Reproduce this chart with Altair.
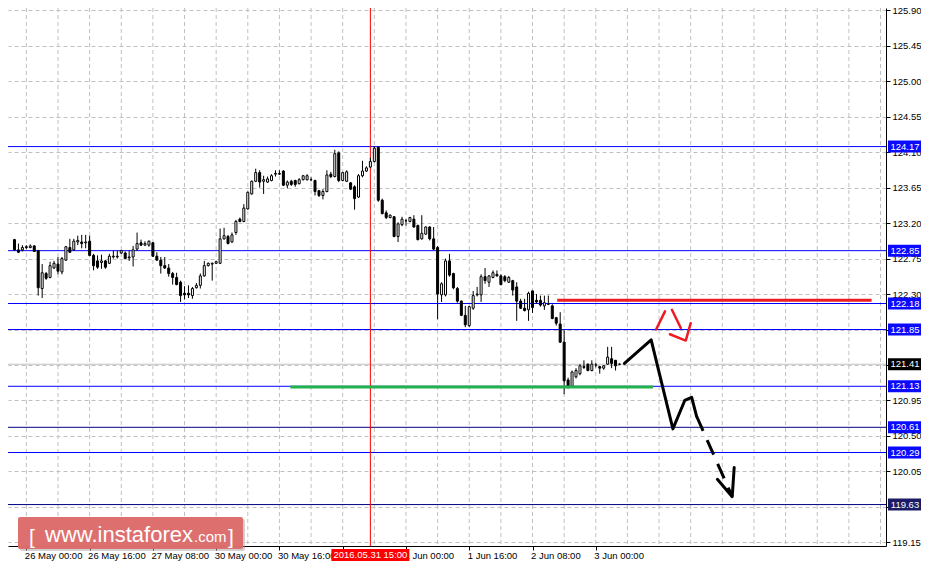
import altair as alt
import pandas as pd

# ---------------- data ----------------
bar_index = list(range(-3, 151))
opens = [122.99, 122.86, 122.86, 122.90, 122.89, 122.91, 122.85, 122.37, 122.56, 122.51,
         122.63, 122.68, 122.58, 122.73, 122.89, 122.86, 122.96, 122.96, 122.95, 122.97,
         122.79, 122.72, 122.70, 122.72, 122.69, 122.77, 122.77, 122.82, 122.82, 122.76,
         122.77, 122.87, 122.95, 122.92, 122.92, 122.95, 122.78, 122.73, 122.66, 122.63,
         122.56, 122.51, 122.45, 122.31, 122.31, 122.28, 122.38, 122.41, 122.53, 122.66,
         122.68, 122.69, 122.69, 123.00, 123.03, 122.96, 123.08, 123.25, 123.22, 123.38,
         123.57, 123.73, 123.84, 123.73, 123.72, 123.74, 123.82, 123.82, 123.86, 123.68,
         123.73, 123.74, 123.70, 123.75, 123.75, 123.75, 123.74, 123.61, 123.55, 123.60,
         123.82, 123.79, 124.09, 123.74, 123.73, 123.71, 123.66, 123.53, 123.80, 123.86,
         123.91, 123.98, 124.16, 123.49, 123.33, 123.27, 123.28, 123.03, 123.18, 123.23,
         123.22, 123.25, 123.17, 123.00, 123.06, 123.15, 123.00, 122.89, 122.29, 122.29,
         122.72, 122.56, 122.37, 122.21, 122.03, 121.90, 122.12, 122.29, 122.29, 122.52,
         122.45, 122.51, 122.55, 122.53, 122.52, 122.45, 122.47, 122.39, 122.21, 122.12,
         122.10, 122.34, 122.22, 122.22, 122.15, 122.17, 122.15, 122.00, 121.92, 121.69,
         121.21, 121.13, 121.25, 121.29, 121.38, 121.41, 121.33, 121.40, 121.38, 121.36,
         121.41, 121.48, 121.46, 121.41]
highs = [123.00, 122.94, 122.92, 122.92, 122.93, 122.92, 122.86, 122.68, 122.58, 122.71,
         122.72, 122.77, 122.77, 122.91, 123.00, 123.00, 123.04, 123.05, 123.05, 123.04,
         122.81, 122.79, 122.80, 122.73, 122.81, 122.85, 122.85, 122.86, 122.84, 122.85,
         122.91, 123.08, 122.99, 122.97, 122.98, 122.96, 122.83, 122.77, 122.77, 122.68,
         122.58, 122.57, 122.47, 122.40, 122.41, 122.39, 122.44, 122.56, 122.72, 122.70,
         122.70, 122.72, 123.13, 123.14, 123.05, 123.08, 123.24, 123.27, 123.44, 123.60,
         123.74, 123.89, 123.87, 123.80, 123.79, 123.82, 123.87, 123.87, 123.87, 123.74,
         123.75, 123.75, 123.77, 123.81, 123.82, 123.78, 123.75, 123.62, 123.63, 123.87,
         123.85, 124.13, 124.11, 123.85, 123.87, 123.72, 123.68, 123.82, 123.99, 123.92,
         124.03, 124.17, 124.17, 123.51, 123.36, 123.31, 123.29, 123.21, 123.28, 123.25,
         123.28, 123.30, 123.18, 123.30, 123.16, 123.16, 123.15, 122.91, 122.45, 122.75,
         122.81, 122.57, 122.39, 122.22, 122.15, 122.15, 122.34, 122.39, 122.55, 122.63,
         122.54, 122.60, 122.60, 122.55, 122.54, 122.53, 122.48, 122.45, 122.24, 122.24,
         122.33, 122.34, 122.30, 122.28, 122.28, 122.28, 122.17, 122.01, 122.07, 121.84,
         121.24, 121.33, 121.36, 121.41, 121.46, 121.42, 121.46, 121.43, 121.39, 121.40,
         121.63, 121.63, 121.46, 121.42]
lows = [122.85, 122.82, 122.84, 122.87, 122.88, 122.84, 122.28, 122.25, 122.48, 122.50,
        122.62, 122.55, 122.55, 122.72, 122.82, 122.85, 122.92, 122.88, 122.88, 122.78,
        122.60, 122.62, 122.62, 122.62, 122.68, 122.75, 122.75, 122.81, 122.74, 122.72,
        122.65, 122.85, 122.91, 122.91, 122.90, 122.77, 122.72, 122.56, 122.62, 122.52,
        122.42, 122.41, 122.20, 122.23, 122.25, 122.24, 122.37, 122.37, 122.52, 122.65,
        122.47, 122.68, 122.68, 122.99, 122.93, 122.95, 123.05, 123.21, 123.21, 123.37,
        123.56, 123.72, 123.65, 123.57, 123.71, 123.73, 123.79, 123.81, 123.67, 123.64,
        123.67, 123.66, 123.69, 123.74, 123.74, 123.73, 123.55, 123.53, 123.50, 123.59,
        123.77, 123.78, 123.72, 123.73, 123.72, 123.62, 123.37, 123.52, 123.78, 123.85,
        123.90, 123.97, 123.47, 123.31, 123.25, 123.26, 123.02, 122.96, 123.16, 123.17,
        123.21, 123.14, 122.98, 122.99, 123.05, 122.98, 122.86, 121.98, 122.20, 122.27,
        122.52, 122.36, 122.19, 122.02, 121.88, 121.88, 122.10, 122.27, 122.20, 122.43,
        122.39, 122.50, 122.52, 122.41, 122.45, 122.44, 122.28, 121.96, 122.11, 122.08,
        121.96, 122.06, 122.18, 122.14, 122.10, 122.16, 121.98, 121.90, 121.68, 121.03,
        121.10, 121.12, 121.23, 121.27, 121.35, 121.32, 121.32, 121.37, 121.29, 121.34,
        121.40, 121.36, 121.33, 121.40]
closes = [122.86, 122.83, 122.89, 122.89, 122.91, 122.84, 122.38, 122.57, 122.50, 122.66,
          122.69, 122.59, 122.75, 122.90, 122.83, 122.97, 122.98, 122.94, 122.96, 122.79,
          122.66, 122.64, 122.72, 122.64, 122.78, 122.78, 122.78, 122.85, 122.75, 122.77,
          122.86, 122.94, 122.92, 122.94, 122.97, 122.78, 122.73, 122.66, 122.63, 122.56,
          122.51, 122.42, 122.28, 122.29, 122.29, 122.37, 122.41, 122.53, 122.66, 122.69,
          122.69, 122.71, 123.00, 123.04, 122.94, 123.05, 123.22, 123.22, 123.39, 123.59,
          123.73, 123.84, 123.72, 123.75, 123.76, 123.80, 123.83, 123.83, 123.68, 123.72,
          123.69, 123.69, 123.75, 123.80, 123.80, 123.75, 123.60, 123.55, 123.60, 123.81,
          123.79, 124.08, 123.74, 123.84, 123.85, 123.63, 123.51, 123.80, 123.86, 123.90,
          123.98, 124.15, 123.49, 123.32, 123.27, 123.30, 123.03, 123.19, 123.25, 123.23,
          123.27, 123.15, 122.99, 123.07, 123.15, 123.00, 122.87, 122.30, 122.43, 122.72,
          122.54, 122.38, 122.21, 122.03, 121.91, 122.14, 122.28, 122.30, 122.52, 122.47,
          122.53, 122.57, 122.53, 122.42, 122.47, 122.51, 122.35, 122.21, 122.12, 122.09,
          122.31, 122.13, 122.20, 122.16, 122.19, 122.17, 121.99, 121.93, 121.69, 121.20,
          121.13, 121.31, 121.33, 121.39, 121.37, 121.33, 121.41, 121.40, 121.36, 121.39,
          121.50, 121.42, 121.39, 121.41]

tick_index = [0, 16, 32, 48, 64, 80, 96, 112, 128, 144]
tick_labels = ["26 May 00:00", "26 May 16:00", "27 May 08:00", "30 May 00:00",
               "30 May 16:00", "31 May 08:00", "1 Jun 00:00", "1 Jun 16:00",
               "2 Jun 08:00", "3 Jun 00:00"]
grid_index = [0, 8, 16, 24, 32, 40, 48, 56, 64, 72, 80, 88, 96, 104, 112, 120, 128,
              136, 144, 152, 160, 168, 176, 184, 192, 200, 208, 216]
y_ticks = [119.15, 119.60, 120.05, 120.50, 120.95, 121.40, 121.85, 122.30, 122.75,
           123.20, 123.65, 124.10, 124.55, 125.00, 125.45, 125.90]

level_values = [124.17, 122.85, 122.18, 121.85, 121.13, 120.61, 120.29, 119.63]
level_line_colors = ["#0000ff", "#0000ff", "#0000ff", "#0000ff", "#0000ff", "#000080", "#0000ff", "#000080"]
level_box_colors = ["#0a0aff", "#0a0aff", "#0a0aff", "#0a0aff", "#0a0aff", "#0a0aff", "#0a0aff", "#1c1c66"]

current_price = 121.41
marker_bar = 87
marker_label = "2016.05.31 15:00"

green_x = [66.75, 158.5]
green_y = 121.12
red_x = [134.25, 213.75]
red_y = 122.22

arrow_x = [151.25, 158.0, 163.5, 166.5, 168.25, 169.5]
arrow_y = [121.42, 121.72, 120.59, 120.95, 120.99, 120.75]
dash_x = [169.5, 178.5]
dash_y = [120.75, 119.73]
head_x = [174.75, 178.5, 179.0]
head_y = [119.95, 119.73, 120.10]

red_seg = [1, 1, 2, 2, 3, 3, 3]
red_ax = [159.25, 161.5, 163.25, 165.5, 162.75, 166.75, 168.0]
red_ay = [121.85, 122.08, 122.10, 121.87, 121.79, 121.71, 121.93]

# ---------------- chart ----------------
FONT = "Liberation Sans"
FS = 9.5

df = pd.DataFrame({"i": bar_index, "o": opens, "h": highs, "l": lows, "c": closes})
df["fill"] = ["white" if c >= o else "black" for o, c in zip(opens, closes)]

xscale = alt.Scale(domain=[-3.375, 216.125], nice=False, zero=False)
yscale = alt.Scale(domain=[119.1046, 125.9276], nice=False, zero=False)

label_expr = " : ".join(f"datum.value == {v} ? '{t}'" for v, t in zip(tick_index, tick_labels)) + " : ''"

xaxis = alt.Axis(values=tick_index, labelExpr=label_expr, grid=False, tickSize=4,
                 labelAlign="left", labelPadding=0, labelOffset=-2, labelFont=FONT,
                 labelFontSize=9.5, labelColor="black", domainColor="black",
                 tickColor="black", title=None, labelOverlap=False, labelFlush=False, zindex=0)
yaxis = alt.Axis(orient="right", values=y_ticks, format=".2f", grid=True, gridDash=[4, 3],
                 gridColor="#c0c0c0", tickSize=4, labelPadding=2, labelFont=FONT,
                 labelFontSize=FS, labelColor="black", domainColor="black", tickColor="black",
                 title=None, labelOverlap=False, labelFlush=False, zindex=0)

X = lambda f: alt.X(f, type="quantitative", scale=xscale, axis=xaxis)
Y = lambda f: alt.Y(f, type="quantitative", scale=yscale, axis=yaxis)

one = pd.DataFrame({"a": [0]})

vgrid = alt.Chart(pd.DataFrame({"i": grid_index})).mark_rule(
    color="#c0c0c0", strokeDash=[4, 3], strokeWidth=1).encode(x=X("i"))

levels_df = pd.DataFrame({"v": level_values, "line": level_line_colors,
                          "box": level_box_colors,
                          "t": [f"{v:.2f}" for v in level_values]})
level_lines = alt.Chart(levels_df).mark_rule(strokeWidth=1).encode(
    y=Y("v"), color=alt.Color("line:N", scale=None))

cur_df = pd.DataFrame({"v": [current_price], "t": [f"{current_price:.2f}"]})
cur_line = alt.Chart(cur_df).mark_rule(color="#c0c0c0", strokeWidth=1).encode(y=Y("v"))

marker_df = pd.DataFrame({"i": [marker_bar], "t": [marker_label]})
vline = alt.Chart(marker_df).mark_rule(color="#ff0000", strokeWidth=1).encode(x=X("i"))

wicks = alt.Chart(df).mark_rule(color="black", strokeWidth=1).encode(
    x=X("i"), y=Y("l"), y2="h")
bodies = alt.Chart(df).mark_bar(width=2, stroke="black", strokeWidth=1).encode(
    x=X("i"), y=Y("o"), y2="c", fill=alt.Fill("fill:N", scale=None))

green = alt.Chart(pd.DataFrame({"x": [green_x[0]], "x2": [green_x[1]], "y": [green_y]})).mark_rule(
    color="#22b14c", strokeWidth=3).encode(x=X("x"), x2="x2", y=Y("y"))
redline = alt.Chart(pd.DataFrame({"x": [red_x[0]], "x2": [red_x[1]], "y": [red_y]})).mark_rule(
    color="#ed1c24", strokeWidth=3).encode(x=X("x"), x2="x2", y=Y("y"))

def path(xs, ys, seg=None):
    d = pd.DataFrame({"x": xs, "y": ys, "k": list(range(len(xs)))})
    d["seg"] = seg if seg is not None else [0] * len(xs)
    return d

arrow = alt.Chart(path(arrow_x, arrow_y)).mark_line(
    color="black", strokeWidth=3, strokeCap="round", strokeJoin="round").encode(
    x=X("x"), y=Y("y"), order="k:Q")
arrow_dash = alt.Chart(path(dash_x, dash_y)).mark_line(
    color="black", strokeWidth=3, strokeDash=[16, 10], strokeCap="butt").encode(
    x=X("x"), y=Y("y"), order="k:Q")
arrow_head = alt.Chart(path(head_x, head_y)).mark_line(
    color="black", strokeWidth=3, strokeCap="round", strokeJoin="round").encode(
    x=X("x"), y=Y("y"), order="k:Q")
red_arrow = alt.Chart(path(red_ax, red_ay, red_seg)).mark_line(
    color="#ed1c24", strokeWidth=2.5, strokeCap="round", strokeJoin="round").encode(
    x=X("x"), y=Y("y"), order="k:Q", detail="seg:N")

BOX_X = 897
level_boxes = alt.Chart(levels_df).mark_tick(orient="horizontal", thickness=12, size=34, opacity=1).encode(
    x=alt.value(BOX_X), y=Y("v"), color=alt.Color("box:N", scale=None))
level_text = alt.Chart(levels_df).mark_text(color="white", align="center", baseline="middle",
                                             font=FONT, fontSize=FS).encode(
    x=alt.value(BOX_X), y=Y("v"), text="t:N")
cur_box = alt.Chart(cur_df).mark_tick(orient="horizontal", thickness=12, size=34, opacity=1,
                                      color="black").encode(x=alt.value(BOX_X), y=Y("v"))
cur_text = alt.Chart(cur_df).mark_text(color="white", align="center", baseline="middle",
                                       font=FONT, fontSize=FS).encode(
    x=alt.value(BOX_X), y=Y("v"), text="t:N")

date_box = alt.Chart(marker_df).mark_tick(orient="horizontal", thickness=12, size=78, opacity=1,
                                          color="#ff0000").encode(x=X("i"), y=alt.value(547))
date_text = alt.Chart(marker_df).mark_text(color="white", align="center", baseline="middle",
                                           font=FONT, fontSize=FS).encode(
    x=X("i"), y=alt.value(547), text="t:N")

wm_shadow = alt.Chart(one).mark_rect(color="#9a9a9a", opacity=0.45, cornerRadius=2).encode(
    x=alt.value(12), x2=alt.value(237), y=alt.value(511), y2=alt.value(543))
wm_box = alt.Chart(one).mark_rect(color="#de6b6b", opacity=0.97, cornerRadius=2).encode(
    x=alt.value(10), x2=alt.value(235), y=alt.value(509), y2=alt.value(541))
wm_main = alt.Chart(one).mark_text(color="white", align="left", baseline="alphabetic",
                                   font=FONT, fontSize=22).encode(
    x=alt.value(37), y=alt.value(534), text=alt.value("www.instaforex"))
wm_com = alt.Chart(one).mark_text(color="white", align="left", baseline="alphabetic",
                                  font=FONT, fontSize=15).encode(
    x=alt.value(186), y=alt.value(534), text=alt.value(".com"))
wm_l = alt.Chart(one).mark_text(color="white", align="left", baseline="alphabetic",
                                font=FONT, fontSize=21).encode(
    x=alt.value(21), y=alt.value(536), text=alt.value("["))
wm_r = alt.Chart(one).mark_text(color="white", align="left", baseline="alphabetic",
                                font=FONT, fontSize=21).encode(
    x=alt.value(220), y=alt.value(536), text=alt.value("]"))

chart = alt.layer(
    vgrid, level_lines, cur_line, vline, wicks, bodies, green, redline,
    arrow, arrow_dash, arrow_head, red_arrow,
    level_boxes, level_text, cur_box, cur_text, date_box, date_text,
    wm_shadow, wm_box, wm_main, wm_com, wm_l, wm_r
).properties(
    width=878, height=538,
    padding={"left": 0, "top": 0, "right": 35, "bottom": 16},
    autosize=alt.AutoSizeParams(type="none"),
    background="white",
).configure_view(strokeWidth=0)

chart.save("out.html", embed_options={"renderer": "svg", "actions": False})
